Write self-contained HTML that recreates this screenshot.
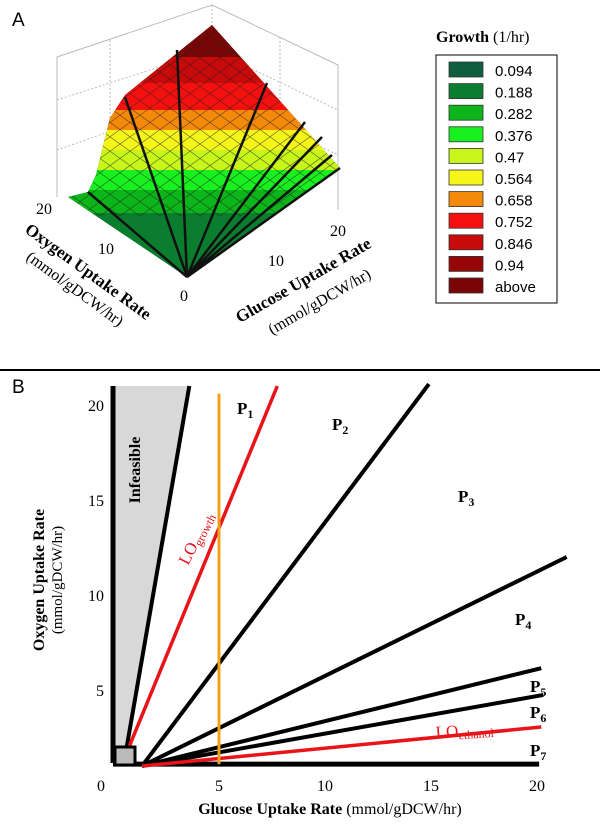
<!DOCTYPE html>
<html><head><meta charset="utf-8"><style>
body{margin:0;background:#fff;}
svg{display:block;font-family:"Liberation Serif",serif;}
</style></head><body>
<svg id="fig" width="600" height="833" viewBox="0 0 600 833">
<defs>
<clipPath id="surf"><polygon points="187,277 68,197 88,192 96,175 102,150 110,118 125,95 212,25 340,168"/></clipPath>
</defs>
<text x="12" y="26" font-family="Liberation Sans" font-size="19">A</text>
<g stroke="#bbb" stroke-width="1" fill="none">
<polyline points="57,197 57,57 212,5 338,65 338,210"/>
<line x1="212" y1="5" x2="212" y2="140" stroke-dasharray="2,2"/>
<line x1="57" y1="100" x2="212" y2="50" stroke-dasharray="2,2"/>
<line x1="57" y1="150" x2="212" y2="95" stroke-dasharray="2,2"/>
<line x1="212" y1="50" x2="338" y2="110" stroke-dasharray="2,2"/>
<line x1="212" y1="95" x2="338" y2="155" stroke-dasharray="2,2"/>
<line x1="110" y1="40" x2="110" y2="185" stroke-dasharray="2,2"/>
<line x1="280" y1="37" x2="280" y2="185" stroke-dasharray="2,2"/>
</g>
<g id="bands" clip-path="url(#surf)"></g>
<g id="mesh" clip-path="url(#surf)" stroke="#222" stroke-width="0.6" opacity="0.7"></g>
<g id="rays" stroke="#111" stroke-width="2.5"></g>
<g font-size="16">
<text x="36" y="214">20</text><text x="98" y="254">10</text><text x="180" y="301">0</text>
<text x="268" y="266">10</text><text x="330" y="236">20</text>
</g>
<text transform="translate(85,276) rotate(36)" text-anchor="middle" font-size="17" font-weight="bold">Oxygen Uptake Rate</text>
<text transform="translate(72,293) rotate(36)" text-anchor="middle" font-size="16">(mmol/gDCW/hr)</text>
<text transform="translate(306,285) rotate(-30)" text-anchor="middle" font-size="17" font-weight="bold">Glucose Uptake Rate</text>
<text transform="translate(322,306) rotate(-30)" text-anchor="middle" font-size="16">(mmol/gDCW/hr)</text>
<text x="436" y="42" font-size="16"><tspan font-weight="bold">Growth</tspan> (1/hr)</text>
<rect x="436" y="55" width="121" height="248" fill="#fff" stroke="#000"/>
<g id="legend" font-family="Liberation Sans" font-size="15"></g>
<line x1="0" y1="370" x2="600" y2="370" stroke="#000" stroke-width="2"/>
<text x="12" y="393" font-family="Liberation Sans" font-size="19">B</text>
<g id="plotB"></g>
<text transform="translate(44,580) rotate(-90)" text-anchor="middle" font-size="16" font-weight="bold">Oxygen Uptake Rate</text>
<text transform="translate(62,580) rotate(-90)" text-anchor="middle" font-size="15">(mmol/gDCW/hr)</text>
<text x="330" y="814" text-anchor="middle" font-size="16"><tspan font-weight="bold">Glucose Uptake Rate</tspan> (mmol/gDCW/hr)</text>
</svg>
<script>
const legendLabels=["0.094","0.188","0.282","0.376","0.47","0.564","0.658","0.752","0.846","0.94","above"];
const legendColors=["#0d5f3f","#0a7e2e","#0cb51a","#19f01f","#c8f51a","#f5f51a","#f58a0a","#f51010","#c80a0a","#960606","#7a0505"];
const bandTops=[213,190,170,150,130,110,83,57,0];
const bandColorIdx=[1,2,3,4,5,6,7,8,10];
const xTicks=[0,5,10,15,20];
const yTicks=[5,10,15,20];
const lineEnds=[[3.6,21.0],[14.9,21.1],[21.4,12.0],[20.2,6.15],[20.3,4.74],[20.1,1.1]];
const redEnds=[[7.75,21.0],[20.2,3.05]];
const orangeX=5;
const ns="http://www.w3.org/2000/svg";
function mk(tag,attrs,parent){const e=document.createElementNS(ns,tag);for(const k in attrs)e.setAttribute(k,attrs[k]);parent.appendChild(e);return e;}
// panel A
const bands=document.getElementById('bands');
let r=mk('rect',{x:0,y:0,width:400,height:300,fill:legendColors[0]},bands);


for(let i=0;i<bandTops.length;i++){
 const b=mk('rect',{x:0,y:bandTops[i],width:400,height:(i==0?100:bandTops[i-1]-bandTops[i]),fill:legendColors[bandColorIdx[i]]},bands);
 
 
}
const mesh=document.getElementById('mesh');
for(let k=-20;k<30;k++){
 mk('line',{x1:k*20,y1:0,x2:k*20+300,y2:300*0.72},mesh);
 mk('line',{x1:k*20,y1:0,x2:k*20-300,y2:300*0.72},mesh);
}
const rays=[[88,192],[125,97],[177,50],[267,83],[305,122],[322,137],[332,155],[340,168]];
const rg=document.getElementById('rays');
rays.forEach(p=>{const l=mk('line',{x1:187,y1:277,x2:p[0],y2:p[1]},rg);
 
 });
const lg=document.getElementById('legend');
legendLabels.forEach((t,i)=>{const y=62+i*21.6;
 const s=mk('rect',{x:449,y:y,width:34,height:15,fill:legendColors[i],stroke:'#333','stroke-width':0.8},lg);
 
 
 const tx=mk('text',{x:495,y:y+14},lg);tx.textContent=t;
 
 });
// panel B
const g=document.getElementById('plotB');
const sx=v=>113+21.2*v, sy=v=>785-19*v;
const ox=0.57, oy=1.5;
const shade=mk('polygon',{points:`${sx(0)},${sy(21)} ${sx(3.6)},${sy(21)} ${sx(ox)},${sy(oy)} ${sx(0)},${sy(1.2)}`,fill:'#d8d8d8'},g);


xTicks.forEach(v=>{const t=mk('text',{x:sx(v)+(v==0?-12:0),y:791,'text-anchor':'middle','font-size':16},g);t.textContent=v;
 });
yTicks.forEach(v=>{const t=mk('text',{x:104,y:sy(v)+6,'text-anchor':'end','font-size':16},g);t.textContent=v;
 });
let L=mk('line',{x1:sx(0),y1:sy(21),x2:sx(0),y2:sy(1.16),stroke:'#000','stroke-width':5},g);

lineEnds.forEach((e,i)=>{const l=mk('line',{x1:sx(i==5?0:ox+(i>0?0.8:0)),y1:sy(i==5?1.1:oy-(i>0?0.5:0)),x2:sx(e[0]),y2:sy(e[1]),stroke:'#000','stroke-width':i==5?5:4},g);
 });
redEnds.forEach((e,i)=>{const l=mk('line',{x1:sx(ox+(i?0.8:0)),y1:sy(oy-(i?0.5:0)),x2:sx(e[0]),y2:sy(e[1]),stroke:'#e8141a','stroke-width':3.5},g);
 });
let O=mk('line',{x1:sx(orangeX),y1:sy(20.6),x2:sx(orangeX),y2:sy(1.1),stroke:'#f5a01a','stroke-width':3},g);

let sq=mk('rect',{x:sx(0)+2,y:sy(2.0),width:20,height:18,fill:'#bbb',stroke:'#000','stroke-width':3},g);

const phases=[["1",237,414],["2",332,430],["3",458,502],["4",515,625],["5",530,692],["6",530,718],["7",530,756]];
phases.forEach(p=>{const t=mk('text',{x:p[1],y:p[2],'font-size':17,'font-weight':'bold'},g);
 t.innerHTML='P<tspan font-size="12" dy="4">'+p[0]+'</tspan>';
 });
let inf=mk('text',{transform:'translate(140,470) rotate(-90)','text-anchor':'middle','font-size':16,'font-weight':'bold'},g);
inf.textContent='Infeasible';
let lo1=mk('text',{transform:'translate(188,566) rotate(-63)',fill:'#e8141a','font-size':17},g);
lo1.innerHTML='LO<tspan font-size="12" dy="3">growth</tspan>';
let lo2=mk('text',{transform:'translate(436,738) rotate(-4)',fill:'#e8141a','font-size':17},g);
lo2.innerHTML='LO<tspan font-size="12" dy="3">ethanol</tspan>';
</script>
</body></html>
